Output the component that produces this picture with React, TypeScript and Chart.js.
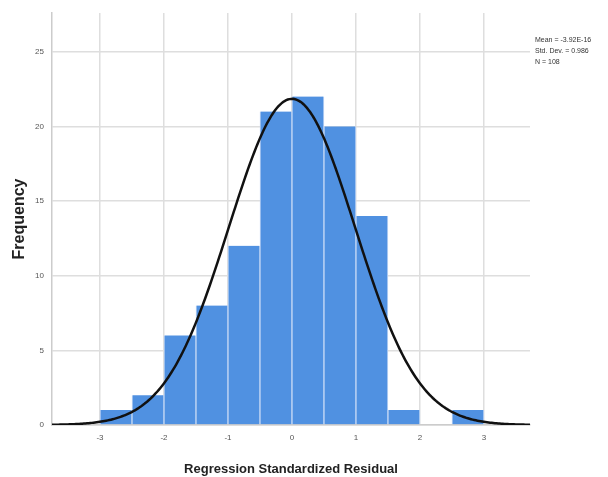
import React, { useEffect, useRef } from "react";
import { Chart, registerables } from "chart.js";

Chart.register(...registerables);

const binCenters = [-2.75, -2.25, -1.75, -1.25, -0.75, -0.25, 0.25, 0.75, 1.25, 1.75, 2.25, 2.75];
const binCounts = [1, 2, 6, 8, 12, 21, 22, 20, 14, 1, 0, 1];
const binWidth = 0.5;
const xTickValues = [-3, -2, -1, 0, 1, 2, 3];
const yTickValues = [0, 5, 10, 15, 20, 25];
const statMean = -3.92e-16;
const statSd = 0.986;
const statN = 108;
const statLabels = ["Mean = -3.92E-16", "Std. Dev. = 0.986", "N = 108"];
const xMin = -3.75;
const xMax = 3.72;
const yMax = 27.6;

function normalCurve() {
  const pts: { x: number; y: number }[] = [];
  const steps = 300;
  for (let i = 0; i <= steps; i++) {
    const x = xMin + ((xMax - xMin) * i) / steps;
    const z = (x - statMean) / statSd;
    const y = (statN * binWidth) / (statSd * Math.sqrt(2 * Math.PI)) * Math.exp(-0.5 * z * z);
    pts.push({ x, y });
  }
  return pts;
}

const statsPlugin = {
  id: "statsText",
  afterDraw(chart: any) {
    const ctx = chart.ctx;
    ctx.save();
    ctx.font = "7px 'Liberation Sans', Arial, sans-serif";
    ctx.fillStyle = "#333";
    ctx.textBaseline = "middle";
    ctx.textAlign = "left";
    statLabels.forEach((t, i) => ctx.fillText(t, 535, 40 + i * 11));
    ctx.restore();
  },
};

export default function App() {
  const ref = useRef<HTMLCanvasElement>(null);
  useEffect(() => {
    document.body.style.margin = "0";
    const chart = new Chart(ref.current!, {
      type: "bar",
      data: {
        datasets: [
          {
            type: "line",
            data: normalCurve(),
            borderColor: "#111",
            borderWidth: 2.5,
            pointRadius: 0,
            tension: 0,
            order: 0,
          } as any,
          {
            type: "bar",
            data: binCenters.map((c, i) => ({ x: c, y: binCounts[i] })),
            backgroundColor: "rgb(80,145,225)",
            borderColor: "rgba(200,218,245,1)",
            borderWidth: { left: 1, right: 1, top: 0, bottom: 0 },
            borderSkipped: false,
            barPercentage: 1,
            categoryPercentage: 1,
            order: 1,
          } as any,
        ],
      },
      options: {
        responsive: false,
        animation: false,
        layout: { padding: { top: 13, right: 78, left: 0, bottom: 0 } },
        plugins: { legend: { display: false }, tooltip: { enabled: false } },
        scales: {
          x: {
            type: "linear",
            min: xMin,
            max: xMax,
            offset: false,
            afterBuildTicks: (s: any) => {
              s.ticks = xTickValues.map((v) => ({ value: v }));
            },
            afterFit: (s: any) => {
              s.height = 52;
            },
            grid: { color: "#dedede", lineWidth: 1.5, drawTicks: false, offset: false },
            border: { color: "#cccccc", width: 1.5 },
            ticks: {
              color: "#555",
              font: { size: 8, family: "'Liberation Sans', Arial, sans-serif" },
              padding: 8,
              maxRotation: 0,
            },
            title: {
              display: true,
              text: "Regression Standardized Residual",
              color: "#222",
              font: { size: 13, weight: "bold", family: "'Liberation Sans', Arial, sans-serif" },
              padding: { top: 12, bottom: 0 },
            },
          },
          y: {
            min: 0,
            max: yMax,
            afterBuildTicks: (s: any) => {
              s.ticks = yTickValues.map((v) => ({ value: v }));
            },
            afterFit: (s: any) => {
              s.width = 52;
            },
            grid: { color: "#dedede", lineWidth: 1.5, drawTicks: false },
            border: { color: "#cccccc", width: 1.5 },
            ticks: {
              color: "#555",
              font: { size: 8, family: "'Liberation Sans', Arial, sans-serif" },
              padding: 8,
            },
            title: {
              display: true,
              text: "Frequency",
              color: "#222",
              font: { size: 16, weight: "bold", family: "'Liberation Sans', Arial, sans-serif" },
              padding: { top: 10, bottom: 0 },
            },
          },
        },
      },
      plugins: [statsPlugin],
    });
    return () => chart.destroy();
  }, []);
  return (
    <div style={{ width: 608, height: 477, background: "#fff" }}>
      <canvas ref={ref} width={608} height={477} />
    </div>
  );
}
